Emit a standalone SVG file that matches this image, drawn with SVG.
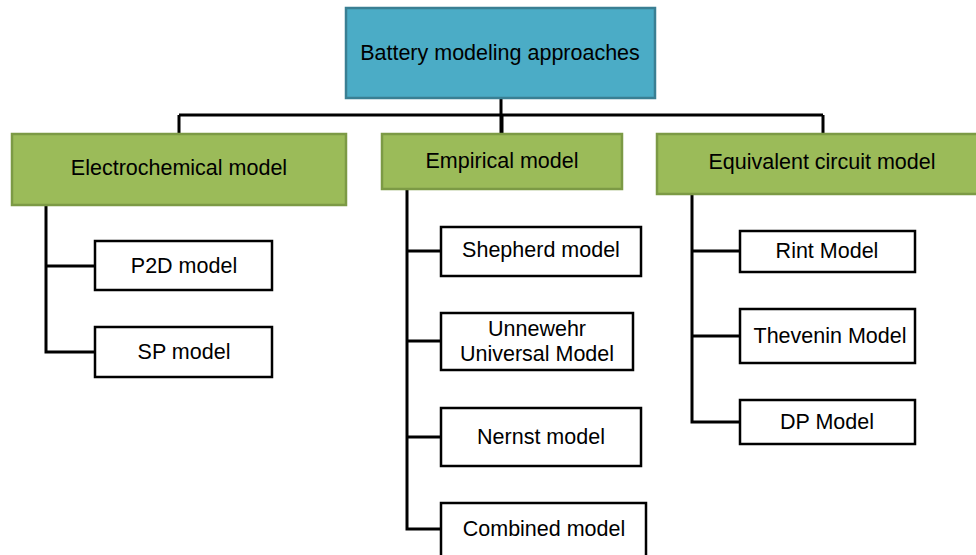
<svg xmlns="http://www.w3.org/2000/svg" width="976" height="555" viewBox="0 0 976 555">
<style>
.top{fill:#4BACC6;stroke:#3A7F93;stroke-width:2.5}
.cat{fill:#9BBB59;stroke:#7C9A45;stroke-width:2.5}
.leaf{fill:#FFFFFF;stroke:#000000;stroke-width:2.5}
.conn{fill:none;stroke:#000000;stroke-width:3}
text{font-family:"Liberation Sans",Arial,sans-serif;font-size:21.5px;fill:#000;text-anchor:middle;dominant-baseline:central}
</style>
<rect width="976" height="555" fill="#FFFFFF"/>
<g id="connectors">
<path class="conn" d="M501 98V133M179 115H823M179 115V133M502 115V133M823 115V133"/>
<path class="conn" d="M46 205V352H95M46 266H95"/>
<path class="conn" d="M407 189V529H441M407 251H441M407 341H441M407 437H441"/>
<path class="conn" d="M692 194V422H740M692 251H740M692 336H740"/>
</g>
<g id="root"><rect class="top" x="346" y="8" width="309" height="90"/><text x="500" y="53">Battery modeling approaches</text></g>
<g id="electrochemical"><rect class="cat" x="12" y="134" width="334" height="71"/><text x="179" y="168">Electrochemical model</text></g>
<g id="empirical"><rect class="cat" x="382" y="134" width="240" height="55"/><text x="502" y="161">Empirical model</text></g>
<g id="equivalent"><rect class="cat" x="657" y="134" width="325" height="60"/><text x="822" y="162">Equivalent circuit model</text></g>
<g id="p2d"><rect class="leaf" x="95" y="241" width="177" height="49"/><text x="184" y="266">P2D model</text></g>
<g id="sp"><rect class="leaf" x="95" y="327" width="177" height="50"/><text x="184" y="352">SP model</text></g>
<g id="shepherd"><rect class="leaf" x="441" y="227" width="200" height="49"/><text x="541" y="250">Shepherd model</text></g>
<g id="unnewehr"><rect class="leaf" x="441" y="313" width="192" height="57"/><text x="537" y="329">Unnewehr</text><text x="537" y="354">Universal Model</text></g>
<g id="nernst"><rect class="leaf" x="441" y="408" width="200" height="58"/><text x="541" y="437">Nernst model</text></g>
<g id="combined"><rect class="leaf" x="441" y="503" width="205" height="60"/><text x="544" y="529">Combined model</text></g>
<g id="rint"><rect class="leaf" x="740" y="231" width="175" height="41"/><text x="827" y="251">Rint Model</text></g>
<g id="thevenin"><rect class="leaf" x="740" y="309" width="175" height="54"/><text x="830" y="336">Thevenin Model</text></g>
<g id="dp"><rect class="leaf" x="740" y="400" width="175" height="44"/><text x="827" y="422">DP Model</text></g>
</svg>
